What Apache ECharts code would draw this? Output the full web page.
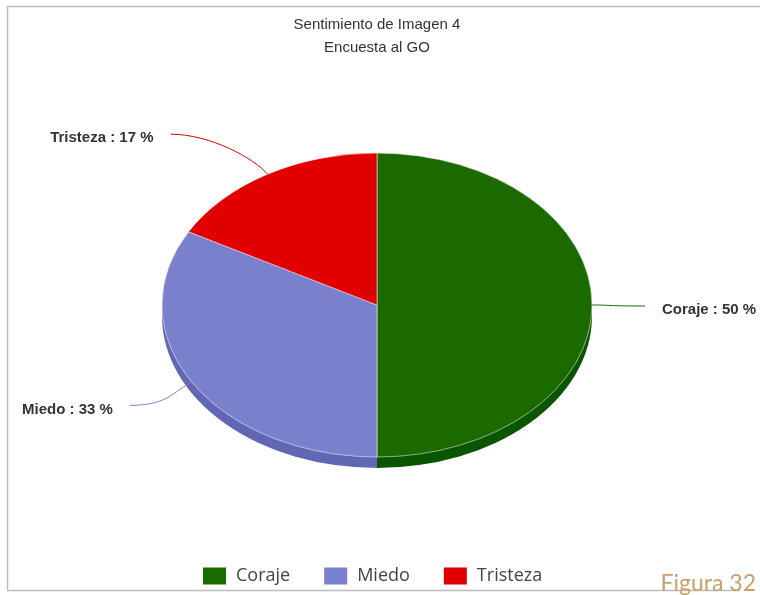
<!DOCTYPE html>
<html>
<head>
<meta charset="utf-8">
<script src="https://cdn.jsdelivr.net/npm/echarts@6/dist/echarts.min.js"></script>
<style>
  html, body { margin: 0; padding: 0; background: #fff; }
  #chart { width: 760px; height: 595px; }
</style>
</head>
<body>
<div id="chart"></div>
<script>
const categories = ['Coraje', 'Miedo', 'Tristeza'];
const values = [50, 33, 17];
const colors = ['#1b6a00', '#7b80cc', '#e00000'];
const sideColors = ['#0c5500', '#6167b5', '#a80000'];

// tilted pie layout
const cx = 377, cy = 305, rx = 215, ry = 152, depth = 11;
// connector end, relative to the rim point of each slice
const labelOffsets = [[53, 1], [-62, 23], [-97, -40]];

const total = values.reduce((a, b) => a + b, 0);
const startAngles = [];
let acc = -Math.PI / 2;
values.forEach(v => {
  startAngles.push(acc);
  acc += v / total * Math.PI * 2;
});

function sliceRenderer(i) {
  return function (params, api) {
    const v = api.value(0);
    const a0 = startAngles[i];
    const a1 = a0 + v / total * Math.PI * 2;
    const mid = (a0 + a1) / 2;
    const px = cx + rx * Math.cos(mid);
    const py = cy + ry * Math.sin(mid);
    let dx = px - cx, dy = py - cy;
    const len = Math.sqrt(dx * dx + dy * dy);
    dx /= len; dy /= len;
    const lx = px + labelOffsets[i][0];
    const ly = py + labelOffsets[i][1];
    const right = lx > cx;
    const side = right ? -1 : 1;
    const sector = (fill, z2) => ({
      type: 'sector',
      z2: z2,
      shape: { cx: 0, cy: 0, r: rx, r0: 0, startAngle: a0, endAngle: a1, clockwise: true },
      style: { fill: fill, stroke: z2 > 5 ? '#fff' : null, lineWidth: 0.6, strokeNoScale: true }
    });
    return {
      type: 'group',
      children: [
        { type: 'group', x: cx, y: cy + depth, scaleY: ry / rx, children: [sector(sideColors[i], 1)] },
        { type: 'group', x: cx, y: cy, scaleY: ry / rx, children: [sector(colors[i], 10)] },
        {
          type: 'bezierCurve',
          z2: 12,
          shape: {
            x1: px, y1: py,
            cpx1: px + dx * 20, cpy1: py + dy * 20,
            cpx2: lx + side * 40, cpy2: ly,
            x2: lx, y2: ly
          },
          style: { stroke: colors[i], lineWidth: 1, fill: null }
        },
        {
          type: 'text',
          z2: 12,
          x: right ? lx + 17 : lx - 17,
          y: ly + 4,
          style: {
            text: categories[i] + ' : ' + v + ' %',
            fill: '#333',
            fontFamily: 'Liberation Sans, Arial',
            fontSize: 15,
            fontWeight: 'bold',
            align: right ? 'left' : 'right',
            verticalAlign: 'middle'
          }
        }
      ]
    };
  };
}

const chart = echarts.init(document.getElementById('chart'), null, { renderer: 'canvas' });

chart.setOption({
  animation: false,
  legend: {
    data: categories,
    left: 198,
    top: 562,
    icon: 'rect',
    itemWidth: 23,
    itemHeight: 17,
    itemGap: 34,
    selectedMode: false,
    textStyle: {
      fontFamily: 'Open Sans',
      fontSize: 18,
      color: '#444',
      padding: [0, 0, 0, 5]
    }
  },
  graphic: [
    {
      type: 'polyline',
      shape: { points: [[760, 6.5], [7.5, 6.5], [7.5, 590.5], [740, 590.5]] },
      style: { stroke: '#bdbdbd', lineWidth: 1.5, fill: null }
    },
    {
      type: 'text', x: 377, y: 25,
      style: { text: 'Sentimiento de Imagen 4', fill: '#333', fontFamily: 'Liberation Sans, Arial', fontSize: 15, align: 'center', verticalAlign: 'middle' }
    },
    {
      type: 'text', x: 377, y: 48,
      style: { text: 'Encuesta al GO', fill: '#333', fontFamily: 'Liberation Sans, Arial', fontSize: 15, align: 'center', verticalAlign: 'middle' }
    },
    {
      type: 'text', x: 756, y: 584,
      style: { text: 'Figura 32', fill: '#c9a06c', fontFamily: 'Lato', fontSize: 23, align: 'right', verticalAlign: 'middle' }
    }
  ],
  series: categories.map((name, i) => ({
    type: 'custom',
    name: name,
    coordinateSystem: 'none',
    itemStyle: { color: colors[i] },
    emphasis: { disabled: true },
    silent: true,
    renderItem: sliceRenderer(i),
    data: [[values[i]]]
  }))
});
</script>
</body>
</html>
